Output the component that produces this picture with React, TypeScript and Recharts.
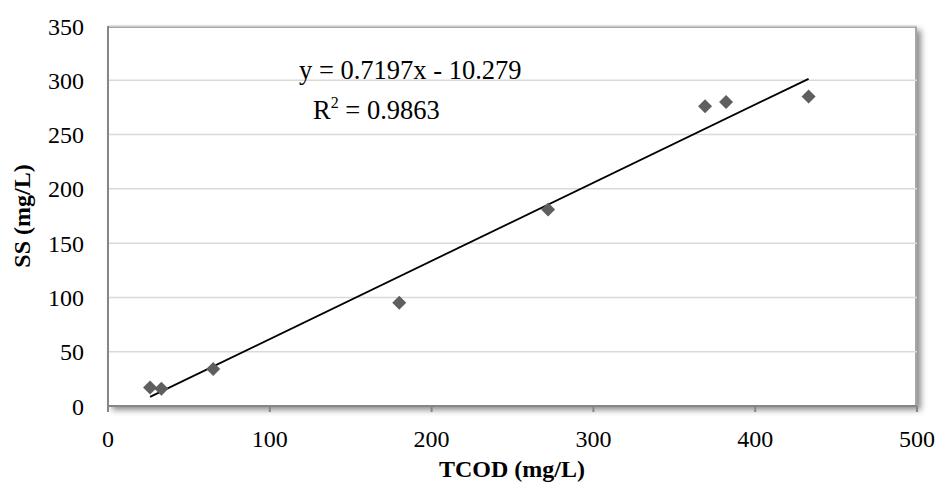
import { ScatterChart, Scatter, XAxis, YAxis, CartesianGrid, Customized } from 'recharts'

// TCOD vs SS measurements
const tcod = [26, 33, 65, 180, 272, 369, 382, 433]
const ss = [17, 16, 34, 95, 181, 276, 280, 285]

const xTicks = [0, 100, 200, 300, 400, 500]
const yTicks = [0, 50, 100, 150, 200, 250, 300, 350]

// linear trendline from the chart
const slope = 0.7197
const intercept = -10.279
const r2 = 0.9863

const points = tcod.map((x, i) => ({ x, y: ss[i] }))
const xMin = Math.min(...tcod)
const xMax = Math.max(...tcod)
const trend = [xMin, xMax].map((x) => ({ x, y: slope * x + intercept }))

const font = '"Liberation Serif", "Times New Roman", serif'

const Diamond = (props: any) => {
  const { cx, cy } = props
  const r = 7
  return (
    <polygon
      points={`${cx},${cy - r} ${cx + r},${cy} ${cx},${cy + r} ${cx - r},${cy}`}
      fill="#5f5f5f"
    />
  )
}

const Equation = () => (
  <g fontFamily={font} fontSize={26.5} fill="#000">
    <text x={299} y={79}>
      {`y = ${slope}x - ${Math.abs(intercept)}`}
    </text>
    <text x={313} y={119}>
      R<tspan dy={-11} fontSize={16}>2</tspan>
      <tspan dy={11}>{` = ${r2}`}</tspan>
    </text>
  </g>
)

export default function App() {
  return (
    <div style={{ position: 'absolute', left: 0, top: 0, width: 940, height: 485, background: '#fff' }}>
      <div
        style={{
          position: 'absolute',
          left: 108,
          top: 26,
          width: 809,
          height: 380,
          boxSizing: 'border-box',
          borderTop: '2px solid #a6a6a6',
          borderRight: '2px solid #a6a6a6',
          boxShadow: '4px 4px 6px rgba(0,0,0,0.45)',
          background: '#fff',
        }}
      />
      <ScatterChart width={940} height={485} margin={{ top: 26, right: 23, bottom: 24, left: 8 }}>
        <CartesianGrid vertical={false} stroke="#d9d9d9" strokeWidth={1.5} />
        <XAxis
          type="number"
          dataKey="x"
          domain={[0, 500]}
          ticks={xTicks}
          height={55}
          tickSize={6}
          tickMargin={18}
          axisLine={{ stroke: '#868686', strokeWidth: 2 }}
          tickLine={{ stroke: '#868686', strokeWidth: 2 }}
          tick={{ fill: '#000', fontSize: 24, fontFamily: font }}
          label={{
            content: () => (
              <text
                x={512}
                y={477}
                textAnchor="middle"
                fontFamily={font}
                fontSize={24}
                fontWeight="bold"
                fill="#000"
              >
                TCOD (mg/L)
              </text>
            ),
          }}
        />
        <YAxis
          type="number"
          dataKey="y"
          domain={[0, 350]}
          ticks={yTicks}
          width={100}
          tickSize={6}
          tickMargin={18}
          tickLine={false}
          axisLine={{ stroke: '#868686', strokeWidth: 2 }}
          tick={{ fill: '#000', fontSize: 24, fontFamily: font }}
          label={{
            content: () => (
              <text
                x={0}
                y={0}
                transform="translate(30,216) rotate(-90)"
                textAnchor="middle"
                fontFamily={font}
                fontSize={24}
                fontWeight="bold"
                fill="#000"
              >
                SS (mg/L)
              </text>
            ),
          }}
        />
        <Scatter
          data={trend}
          line={{ stroke: '#000', strokeWidth: 1.8 }}
          shape={() => <g />}
          isAnimationActive={false}
        />
        <Scatter data={points} shape={Diamond} isAnimationActive={false} />
        <Customized component={Equation} />
      </ScatterChart>
    </div>
  )
}
